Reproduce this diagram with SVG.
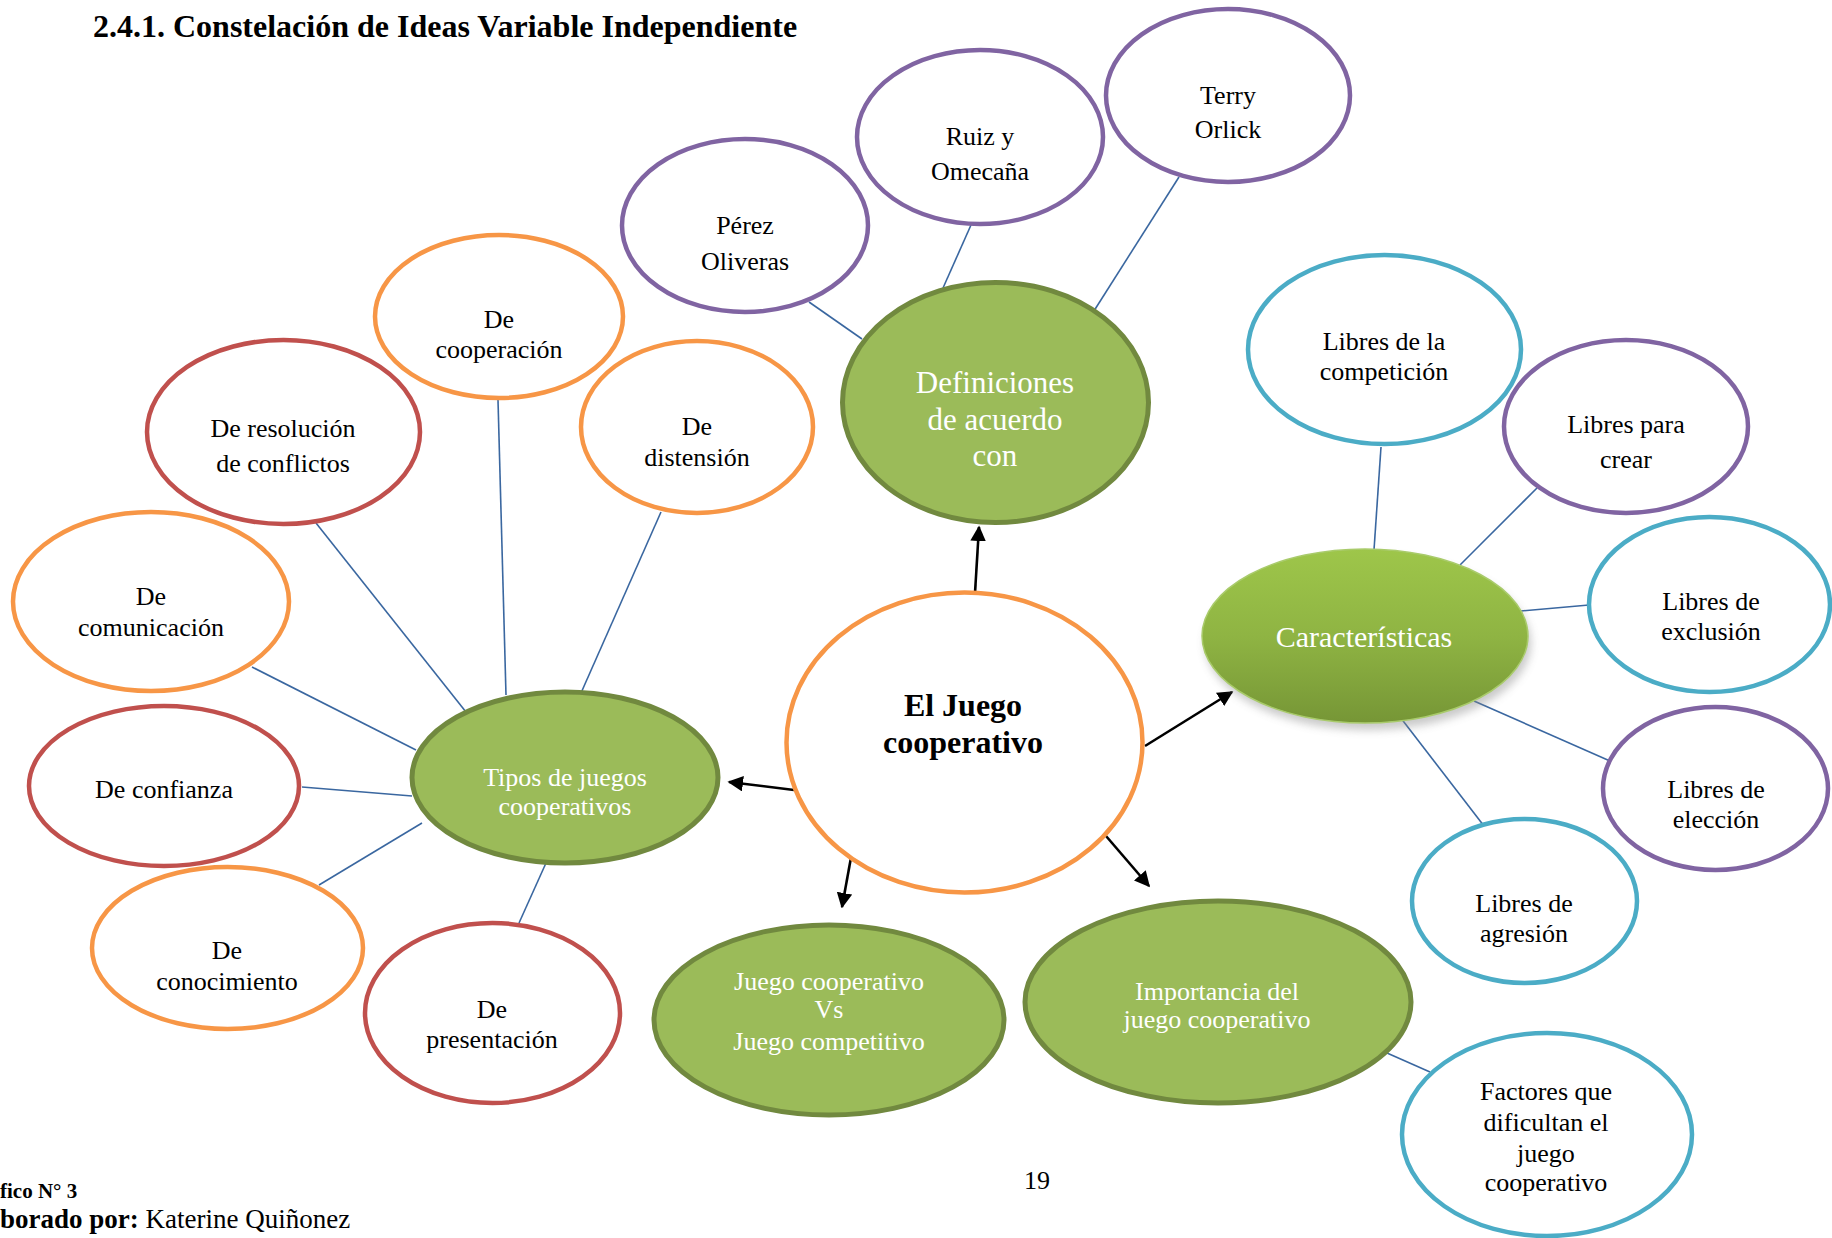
<svg xmlns="http://www.w3.org/2000/svg" width="1832" height="1238" viewBox="0 0 1832 1238">
<style>
.t{font-family:"Liberation Serif","Times New Roman",serif;font-size:26px;fill:#000;text-anchor:middle}
.w{font-family:"Liberation Serif","Times New Roman",serif;font-size:26px;fill:#fff;text-anchor:middle}
.o{fill:#fff;stroke:#F79646;stroke-width:4.5}
.r{fill:#fff;stroke:#C0504D;stroke-width:4.5}
.p{fill:#fff;stroke:#8064A2;stroke-width:4.5}
.b{fill:#fff;stroke:#4BACC6;stroke-width:4.5}
.g{fill:#9BBB59;stroke:#71893F;stroke-width:5}
.ln{stroke:#3A67A0;stroke-width:1.6;fill:none}
.ar{stroke:#000;stroke-width:2.6;fill:none;marker-end:url(#ah)}
</style>
<defs>
<marker id="ah" viewBox="0 0 10 10" refX="9" refY="5" markerWidth="6" markerHeight="6" markerUnits="strokeWidth" orient="auto">
<path d="M0,0 L10,5 L0,10 z" fill="#000"/>
</marker>
<linearGradient id="cg" x1="0" y1="0" x2="0" y2="1">
<stop offset="0" stop-color="#9EC64A"/>
<stop offset="0.5" stop-color="#8FB443"/>
<stop offset="1" stop-color="#769636"/>
</linearGradient>
<filter id="sh" x="-20%" y="-20%" width="140%" height="150%">
<feGaussianBlur stdDeviation="4"/>
</filter>
</defs>
<rect width="1832" height="1238" fill="#fff"/>

<text x="93" y="37" font-family="Liberation Serif, Times New Roman, serif" font-size="32" font-weight="bold">2.4.1. Constelación de Ideas Variable Independiente</text>

<g id="connectors">
<line class="ln" x1="809" y1="302" x2="862" y2="339"/>
<line class="ln" x1="971" y1="225" x2="943" y2="288"/>
<line class="ln" x1="1179" y1="177" x2="1092" y2="314"/>
<line class="ln" x1="316" y1="523" x2="466" y2="712"/>
<line class="ln" x1="498" y1="400" x2="506" y2="695"/>
<line class="ln" x1="661" y1="512" x2="581" y2="693"/>
<line class="ln" x1="252" y1="667" x2="416" y2="750"/>
<line class="ln" x1="302" y1="787" x2="412" y2="796"/>
<line class="ln" x1="319" y1="885" x2="422" y2="823"/>
<line class="ln" x1="546" y1="863" x2="519" y2="923"/>
<line class="ln" x1="1381" y1="447" x2="1374" y2="550"/>
<line class="ln" x1="1537" y1="488" x2="1460" y2="565"/>
<line class="ln" x1="1521" y1="611" x2="1589" y2="605"/>
<line class="ln" x1="1474" y1="701" x2="1610" y2="761"/>
<line class="ln" x1="1397" y1="713" x2="1484" y2="826"/>
<line class="ln" x1="1387" y1="1053" x2="1430" y2="1072"/>
<line class="ar" x1="975" y1="593" x2="979" y2="527"/>
<line class="ar" x1="1145" y1="746" x2="1232" y2="692"/>
<line class="ar" x1="794" y1="790" x2="729" y2="782"/>
<line class="ar" x1="852" y1="852" x2="842" y2="907"/>
<line class="ar" x1="1100" y1="829" x2="1149" y2="886"/>
</g>

<g id="center">
<ellipse class="o" cx="964.5" cy="742.5" rx="178" ry="150"/>
<text class="t" x="963" y="716" style="font-size:32px;font-weight:bold">El Juego</text>
<text class="t" x="963" y="753" style="font-size:32px;font-weight:bold">cooperativo</text>
</g>

<g id="definiciones">
<ellipse class="g" cx="995.5" cy="402.5" rx="153" ry="120"/>
<text class="w" x="995" y="393" style="font-size:31px">Definiciones</text>
<text class="w" x="995" y="430" style="font-size:31px">de acuerdo</text>
<text class="w" x="995" y="466" style="font-size:31px">con</text>
</g>

<g id="perez">
<ellipse class="p" cx="745" cy="225.5" rx="123" ry="86.5"/>
<text class="t" x="745" y="234">Pérez</text>
<text class="t" x="745" y="270">Oliveras</text>
</g>

<g id="ruiz">
<ellipse class="p" cx="980" cy="137" rx="123" ry="87"/>
<text class="t" x="980" y="145">Ruiz y</text>
<text class="t" x="980" y="180">Omecaña</text>
</g>

<g id="terry">
<ellipse class="p" cx="1228" cy="95.5" rx="122" ry="86.5"/>
<text class="t" x="1228" y="104">Terry</text>
<text class="t" x="1228" y="138">Orlick</text>
</g>

<g id="tipos">
<ellipse class="g" cx="565" cy="777.5" rx="153" ry="85.5"/>
<text class="w" x="565" y="786">Tipos de juegos</text>
<text class="w" x="565" y="815">cooperativos</text>
</g>

<g id="cooperacion">
<ellipse class="o" cx="499" cy="316.5" rx="124" ry="81.5"/>
<text class="t" x="499" y="328">De</text>
<text class="t" x="499" y="358">cooperación</text>
</g>

<g id="resolucion">
<ellipse class="r" cx="283.5" cy="432" rx="136.5" ry="92"/>
<text class="t" x="283" y="437">De resolución</text>
<text class="t" x="283" y="472">de conflictos</text>
</g>

<g id="distension">
<ellipse class="o" cx="697" cy="427" rx="116" ry="86"/>
<text class="t" x="697" y="435">De</text>
<text class="t" x="697" y="466">distensión</text>
</g>

<g id="comunicacion">
<ellipse class="o" cx="151" cy="601.5" rx="138" ry="89.5"/>
<text class="t" x="151" y="605">De</text>
<text class="t" x="151" y="636">comunicación</text>
</g>

<g id="confianza">
<ellipse class="r" cx="164" cy="786" rx="135" ry="80"/>
<text class="t" x="164" y="798">De confianza</text>
</g>

<g id="conocimiento">
<ellipse class="o" cx="227.5" cy="948" rx="135.5" ry="81"/>
<text class="t" x="227" y="959">De</text>
<text class="t" x="227" y="990">conocimiento</text>
</g>

<g id="presentacion">
<ellipse class="r" cx="492.5" cy="1013" rx="127.5" ry="90"/>
<text class="t" x="492" y="1018">De</text>
<text class="t" x="492" y="1048">presentación</text>
</g>

<g id="vs">
<ellipse class="g" cx="829" cy="1020" rx="175" ry="95"/>
<text class="w" x="829" y="990">Juego cooperativo</text>
<text class="w" x="829" y="1018">Vs</text>
<text class="w" x="829" y="1050">Juego competitivo</text>
</g>

<g id="importancia">
<ellipse class="g" cx="1218" cy="1002" rx="193" ry="101"/>
<text class="w" x="1217" y="1000">Importancia del</text>
<text class="w" x="1217" y="1028">juego cooperativo</text>
</g>

<g id="caracteristicas">
<ellipse cx="1368" cy="643" rx="163" ry="87" fill="#888" opacity="0.45" filter="url(#sh)"/>
<ellipse cx="1365" cy="636" rx="163" ry="87" fill="url(#cg)" stroke="#A9CB6B" stroke-width="1.5"/>
<text class="w" x="1364" y="647" style="font-size:30px">Características</text>
</g>

<g id="competicion">
<ellipse class="b" cx="1384.5" cy="349.5" rx="136.5" ry="94.5"/>
<text class="t" x="1384" y="350">Libres de la</text>
<text class="t" x="1384" y="380">competición</text>
</g>

<g id="crear">
<ellipse class="p" cx="1626" cy="426.5" rx="122" ry="86.5"/>
<text class="t" x="1626" y="433">Libres para</text>
<text class="t" x="1626" y="468">crear</text>
</g>

<g id="exclusion">
<ellipse class="b" cx="1709.5" cy="604.5" rx="120.5" ry="87.5"/>
<text class="t" x="1711" y="610">Libres de</text>
<text class="t" x="1711" y="640">exclusión</text>
</g>

<g id="eleccion">
<ellipse class="p" cx="1715.5" cy="788.5" rx="112.5" ry="81.5"/>
<text class="t" x="1716" y="798">Libres de</text>
<text class="t" x="1716" y="828">elección</text>
</g>

<g id="agresion">
<ellipse class="b" cx="1524.5" cy="901" rx="112.5" ry="82"/>
<text class="t" x="1524" y="912">Libres de</text>
<text class="t" x="1524" y="942">agresión</text>
</g>

<g id="factores">
<ellipse class="b" cx="1547" cy="1134.5" rx="145" ry="101.5"/>
<text class="t" x="1546" y="1100">Factores que</text>
<text class="t" x="1546" y="1131">dificultan el</text>
<text class="t" x="1546" y="1162">juego</text>
<text class="t" x="1546" y="1191">cooperativo</text>
</g>

<text x="1037" y="1189" font-family="Liberation Serif, Times New Roman, serif" font-size="26" text-anchor="middle">19</text>
<text x="0" y="1198" font-family="Liberation Serif, Times New Roman, serif" font-size="21" font-weight="bold">fico N° 3</text>
<text x="0" y="1228" font-family="Liberation Serif, Times New Roman, serif" font-size="27"><tspan font-weight="bold">borado por:</tspan> Katerine Quiñonez</text>
</svg>
